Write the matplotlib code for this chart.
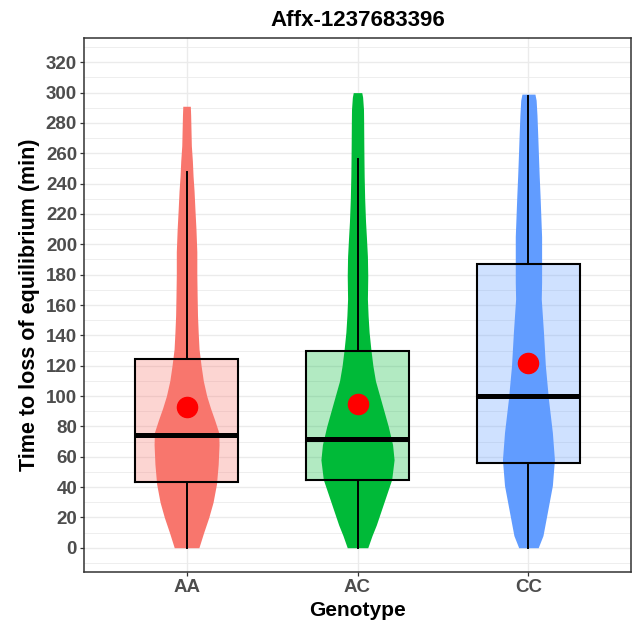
import numpy as np
import matplotlib
matplotlib.use('Agg')
import matplotlib.pyplot as plt
from matplotlib.ticker import MultipleLocator

plt.rcParams['font.family'] = ['Liberation Sans', 'DejaVu Sans']

# ── DATA ────────────────────────────────────────────────────────
genotypes = ['AA', 'AC', 'CC']
colors    = ['#F8766D', '#00BA38', '#619CFF']

# box stats (minutes)
whisk_lo = [0, 0, 0]
q1       = [43, 44.8, 56]
median   = [74, 71.5, 99.8]
q3       = [124.5, 129.5, 187]
whisk_hi = [247.5, 256.5, 297.5]
means    = [92.5, 94.5, 121.5]

# violin outlines: y values and half widths (category units)
aa_y = [0, 10, 20, 30, 42, 55, 68, 76, 84, 92, 100, 110, 120, 131, 142,
        153, 165, 180, 195, 210, 223, 235, 245, 255, 265, 275, 285, 291]
aa_w = [0.072, 0.10, 0.13, 0.155, 0.175, 0.185, 0.19, 0.188, 0.165, 0.14,
        0.118, 0.098, 0.085, 0.073, 0.068, 0.064, 0.062, 0.06, 0.06, 0.055,
        0.049, 0.044, 0.038, 0.034, 0.028, 0.026, 0.024, 0.022]

ac_y = [0, 8, 15, 25, 35, 45, 58, 68, 80, 90, 98, 110, 120, 131, 142, 153,
        164, 179, 192, 205, 215, 230, 245, 254, 265, 280, 289, 297, 300]
ac_w = [0.06, 0.085, 0.11, 0.14, 0.17, 0.2, 0.214, 0.205, 0.18, 0.155,
        0.135, 0.105, 0.09, 0.078, 0.068, 0.062, 0.058, 0.06, 0.058, 0.052,
        0.047, 0.042, 0.039, 0.038, 0.037, 0.036, 0.035, 0.03, 0.025]

cc_y = [0, 8, 23, 41, 58, 76, 98, 120, 142, 164, 175, 190, 205, 220, 232,
        245, 254, 270, 285, 295, 299]
cc_w = [0.057, 0.085, 0.11, 0.14, 0.152, 0.14, 0.117, 0.099, 0.088, 0.075,
        0.077, 0.077, 0.077, 0.072, 0.068, 0.063, 0.06, 0.055, 0.05, 0.045,
        0.038]

violin_y = [aa_y, ac_y, cc_y]
violin_w = [aa_w, ac_w, cc_w]

# ── PLOT ────────────────────────────────────────────────────────
fig = plt.figure(figsize=(6.39, 6.32), dpi=100)
ax = fig.add_axes([84 / 639, 1 - 572 / 632, (631 - 84) / 639, (572 - 38) / 632])

box_half = 0.3
for i, g in enumerate(genotypes):
    x = i + 1
    c = colors[i]
    # box fill
    ax.fill_between([x - box_half, x + box_half], q1[i], q3[i],
                    color=c, alpha=0.3, linewidth=0, zorder=2)
    # violin
    vy = np.array(violin_y[i])
    vw = np.array(violin_w[i])
    ax.fill_betweenx(vy, x - vw, x + vw, color=c, linewidth=0, zorder=3)
    # box outline
    ax.plot([x - box_half, x + box_half, x + box_half, x - box_half, x - box_half],
            [q1[i], q1[i], q3[i], q3[i], q1[i]],
            color='black', lw=1.5, zorder=4, solid_joinstyle='miter')
    ax.plot([x - box_half, x + box_half], [median[i], median[i]],
            color='black', lw=3.6, zorder=4, solid_capstyle='butt')
    ax.plot([x, x], [whisk_lo[i], q1[i]], color='black', lw=1.4, zorder=4)
    ax.plot([x, x], [q3[i], whisk_hi[i]], color='black', lw=1.4, zorder=4)
    # mean
    ax.plot(x, means[i], 'o', color='red', markersize=14.5, zorder=5)

ax.set_xlim(0.4, 3.6)
ax.set_ylim(-16, 336)
ax.set_xticks([1, 2, 3])
ax.set_xticklabels(genotypes)
ax.yaxis.set_major_locator(MultipleLocator(20))
ax.yaxis.set_minor_locator(MultipleLocator(10))
ax.set_yticks(np.arange(0, 321, 20))

ax.grid(which='major', color='#EBEBEB', lw=1.0, zorder=0)
ax.grid(which='minor', axis='y', color='#EBEBEB', lw=0.6, zorder=0)
ax.set_axisbelow(True)
ax.tick_params(which='minor', length=0)
ax.tick_params(which='major', length=3, width=0.9, color='#333333',
               labelcolor='#4D4D4D', labelsize=13.5, pad=2)
for lab in ax.get_xticklabels() + ax.get_yticklabels():
    lab.set_fontweight('bold')
for spine in ax.spines.values():
    spine.set_edgecolor('#333333')
    spine.set_linewidth(1.1)

ax.set_title('Affx-1237683396', fontsize=16, fontweight='bold', pad=9)
ax.set_xlabel('Genotype', fontsize=15, fontweight='bold', labelpad=4)
ax.set_ylabel('Time to loss of equilibrium (min)', fontsize=15.5,
              fontweight='bold', labelpad=4)

fig.savefig('out.png', dpi=100)
